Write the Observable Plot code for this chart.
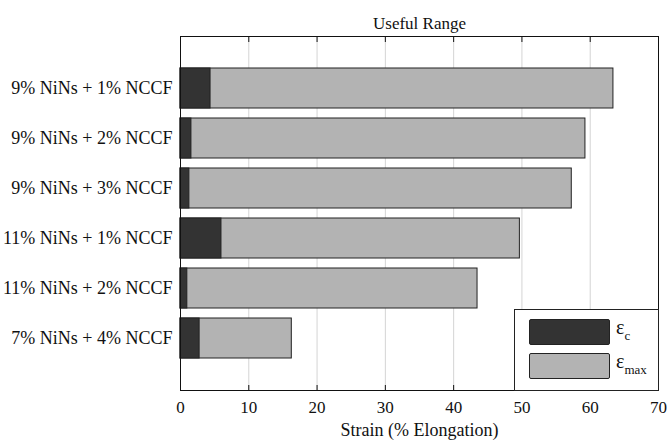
<!DOCTYPE html>
<html>
<head>
<meta charset="utf-8">
<script src="https://cdn.jsdelivr.net/npm/d3@7"></script>
<script src="https://cdn.jsdelivr.net/npm/@observablehq/plot@0.6"></script>
<style>
  html, body { margin: 0; padding: 0; background: #fff; }
  #wrap { position: relative; width: 668px; height: 445px; font-family: "Liberation Serif", "Times New Roman", serif; }
  #legend { position: absolute; left: 514px; top: 309px; width: 143px; height: 80px; background: #fff; border: 1px solid #222; box-sizing: content-box; }
  .sw { position: absolute; left: 14px; width: 79px; height: 24px; border: 1px solid #222; border-radius: 2px; }
  .lab { position: absolute; left: 101px; font-size: 20px; color: #111; line-height: 20px; }
  .lab sub { font-size: 13px; vertical-align: -6px; }
</style>
</head>
<body>
<div id="wrap"></div>
<script>
const categories = [
  "9% NiNs + 1% NCCF",
  "9% NiNs + 2% NCCF",
  "9% NiNs + 3% NCCF",
  "11% NiNs + 1% NCCF",
  "11% NiNs + 2% NCCF",
  "7% NiNs + 4% NCCF"
];
const epsC   = [4.4, 1.6, 1.3, 6.0, 1.0, 2.8];
const epsMax = [63.4, 59.3, 57.3, 49.7, 43.5, 16.3];
const xTicks = [0, 10, 20, 30, 40, 50, 60, 70];
const seriesNames = ["ε_c", "ε_max"];
const seriesColors = ["#333333", "#b3b3b3"];

const rows = categories.map((c, i) => ({cat: c, c: epsC[i], max: epsMax[i]}));

const font = "Liberation Serif, Times New Roman, serif";

const chart = Plot.plot({
  width: 668,
  height: 445,
  marginLeft: 180,
  marginRight: 10,
  marginTop: 36,
  marginBottom: 55,
  style: {fontFamily: font, fontSize: "17px", color: "#111", background: "#fff"},
  x: {domain: [0, 70], ticks: xTicks, label: null},
  y: {domain: categories, paddingInner: 0.2, paddingOuter: 0.6, label: null},
  marks: [
    Plot.ruleX(xTicks.slice(1, -1), {stroke: "#d4d4d4", strokeWidth: 1}),
    Plot.barX(rows, {y: "cat", x: "max", fill: seriesColors[1], stroke: "#222", strokeWidth: 1}),
    Plot.barX(rows, {y: "cat", x: "c", fill: seriesColors[0], stroke: "#222", strokeWidth: 1}),
    Plot.frame({stroke: "#111", strokeWidth: 1}),
    Plot.axisX({anchor: "bottom", ticks: xTicks, tickSize: 0, tickPadding: 10, label: null, fontSize: 17}),
    Plot.axisX({anchor: "bottom", ticks: xTicks, tickSize: -5, text: null, label: null, stroke: "#111"}),
    Plot.axisX({anchor: "top", ticks: xTicks, tickSize: -5, text: null, label: null, stroke: "#111"}),
    Plot.axisY({anchor: "left", tickSize: 0, tickPadding: 8, label: null, fontSize: 18}),
    Plot.text(["Useful Range"], {frameAnchor: "top", dy: -20, fontSize: 17, fill: "#111"}),
    Plot.text(["Strain (% Elongation)"], {frameAnchor: "bottom", dy: 45, fontSize: 18, fill: "#111"})
  ]
});

const wrap = document.getElementById("wrap");
wrap.appendChild(chart);

const legend = document.createElement("div");
legend.id = "legend";
const tops = [9, 43];
seriesNames.forEach((name, i) => {
  const sw = document.createElement("div");
  sw.className = "sw";
  sw.style.top = tops[i] + "px";
  sw.style.background = seriesColors[i];
  legend.appendChild(sw);
  const lab = document.createElement("div");
  lab.className = "lab";
  lab.style.top = (tops[i] - 2) + "px";
  const [base, sub] = name.split("_");
  lab.innerHTML = base + "<sub>" + sub + "</sub>";
  legend.appendChild(lab);
});
wrap.appendChild(legend);
</script>
</body>
</html>
